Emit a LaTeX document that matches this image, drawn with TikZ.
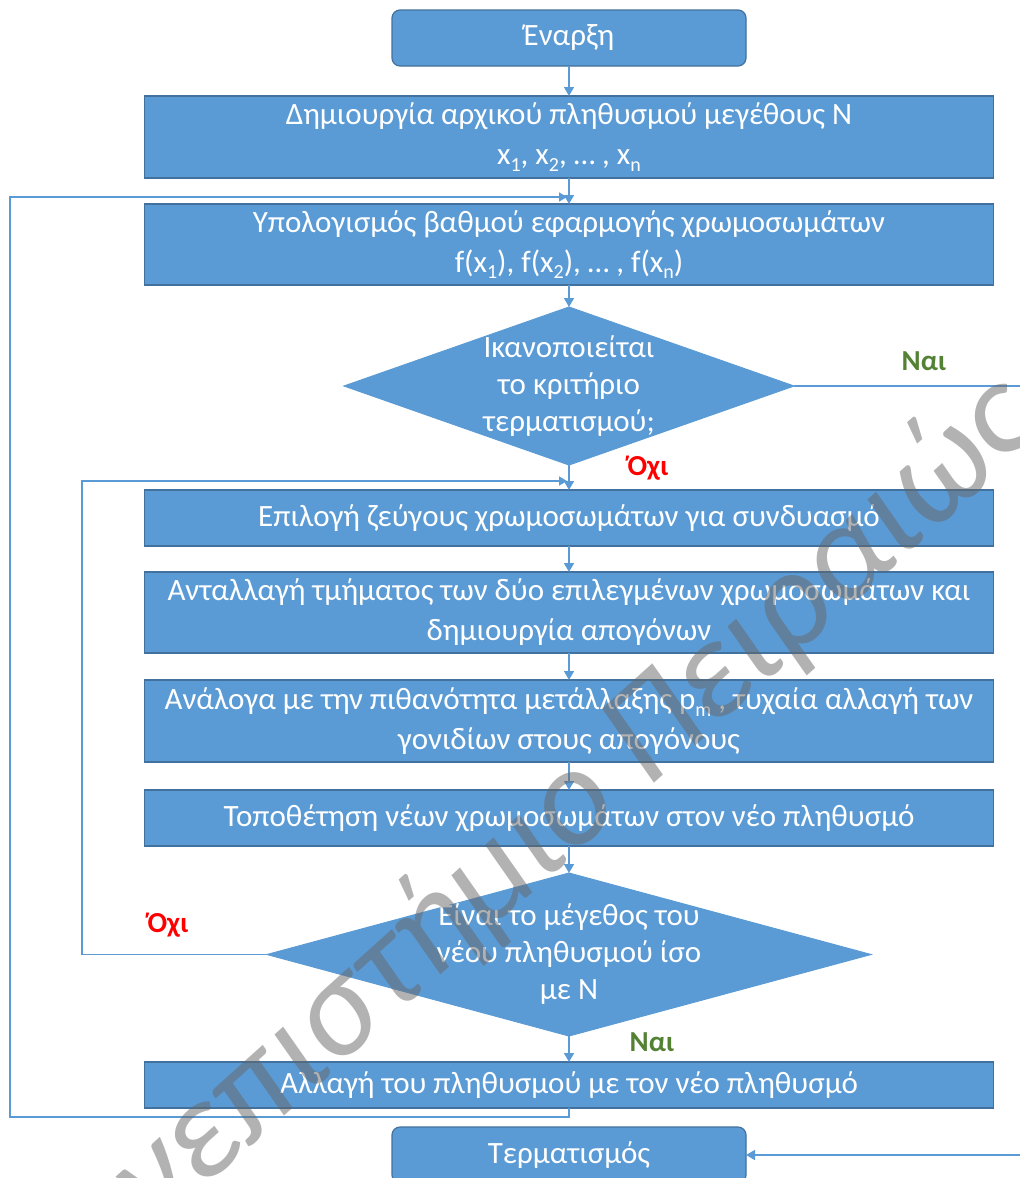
\documentclass[tikz,border=0pt]{standalone}
\usepackage{fontspec}
\setmainfont{Carlito}
\usetikzlibrary{arrows.meta,shapes.geometric}
\definecolor{boxblue}{HTML}{5B9BD5}
\definecolor{boxedge}{HTML}{41719C}
\definecolor{naigreen}{HTML}{548235}
\definecolor{ochired}{HTML}{FF0000}
\newcommand{\mysub}[1]{\raisebox{-0.22em}{\fontsize{20}{20}\selectfont #1}}
\begin{document}
\begin{tikzpicture}[x=1pt,y=-1pt,
  every node/.style={inner sep=0pt, outer sep=0pt},
  proc/.style={rectangle, fill=boxblue, draw=boxedge, line width=1.2pt, minimum width=849pt,
    text=white, font=\fontsize{31}{40}\selectfont, align=center},
  term/.style={proc, rounded corners=8pt, minimum width=354pt, minimum height=56pt},
  dec/.style={diamond, fill=boxblue, draw=boxblue, line width=1pt},
  dectext/.style={text=white, font=\fontsize{31}{37}\selectfont, align=center},
  conn/.style={draw=boxblue, line width=1.6pt, -{Triangle[length=9pt,width=10pt]}},
  loopline/.style={draw=boxblue, line width=1.6pt},
  yes/.style={text=naigreen, font=\fontsize{29}{29}\selectfont\bfseries},
  no/.style={text=ochired, font=\fontsize{29}{29}\selectfont\bfseries}
]
\useasboundingbox (0,0) rectangle (1020,1178);

\node[term] (start) at (569,38) {Έναρξη};
\node[proc, minimum height=82pt] (init) at (569,137)
  {Δημιουργία αρχικού πληθυσμού μεγέθους Ν\\x\mysub{1}, x\mysub{2}, … , x\mysub{n}};
\node[proc, minimum height=81pt] (fit) at (569,244.5)
  {Υπολογισμός βαθμού εφαρμογής χρωμοσωμάτων\\f(x\mysub{1}), f(x\mysub{2}), … , f(x\mysub{n})};
\node[dec, minimum width=450pt, minimum height=158pt] (d1) at (569,386) {};
\node[dectext] (d1t) at (d1.center) {Ικανοποιείται\\το κριτήριο\\τερματισμού;};
\node[proc, minimum height=56pt] (sel) at (569,518)
  {Επιλογή ζεύγους χρωμοσωμάτων για συνδυασμό};
\node[proc, minimum height=81pt] (cross) at (569,612.5)
  {Ανταλλαγή τμήματος των δύο επιλεγμένων χρωμοσωμάτων και\\δημιουργία απογόνων};
\node[proc, minimum height=82pt] (mut) at (569,721)
  {Ανάλογα με την πιθανότητα μετάλλαξης p\mysub{m} , τυχαία αλλαγή των\\γονιδίων στους απογόνους};
\node[proc, minimum height=56pt] (place) at (569,818)
  {Τοποθέτηση νέων χρωμοσωμάτων στον νέο πληθυσμό};
\node[dec, minimum width=604pt, minimum height=163pt] (d2) at (569,954.5) {};
\node[dectext] (d2t) at (d2.center) {Είναι το μέγεθος του\\νέου πληθυσμού ίσο\\με Ν};
\node[proc, minimum height=46pt] (repl) at (569,1085)
  {Αλλαγή του πληθυσμού με τον νέο πληθυσμό};
\node[term] (end) at (569,1155) {Τερματισμός};

% labels
\node[yes] (nai1) at (924,361) {Ναι};
\node[no] (ochi1) at (648,468) {Όχι};
\node[no] (ochi2) at (168,925) {Όχι};
\node[yes] (nai2) at (652,1042) {Ναι};

% coordinates for loops
\coordinate (l1) at (82,481);
\coordinate (j1) at (567,481);
\coordinate (l2b) at (10,1117);
\coordinate (l2t) at (10,197);
\coordinate (j2) at (567,197);
\coordinate (rgt) at (1040,386);

% main flow
\draw[conn] (start) -- (init);
\draw[conn] (init) -- (fit);
\draw[conn] (fit.south) -- (d1.north);
\draw[conn] (d1.south) -- (sel.north);
\draw[conn] (sel) -- (cross);
\draw[conn] (cross) -- (mut);
\draw[conn] (mut) -- (place);
\draw[conn] (place.south) -- (d2.north);
\draw[conn] (d2.south) -- (repl.north);

% branches
\draw[conn] (d1.east) -- (rgt) |- (end.east);
\draw[loopline, -{Triangle[length=8pt,width=9pt]}] (d2.west) -| (l1) -- (j1);
\draw[loopline, -{Triangle[length=8pt,width=9pt]}] (repl.south) |- (l2b) -- (l2t) -- (j2);

% watermark
\node[rotate=42, text=gray!80!black, opacity=0.5,
  font=\fontsize{140}{140}\selectfont\itshape] (wm) at (513,859) {Πανεπιστήμιο Πειραιώς};
\end{tikzpicture}
\end{document}
